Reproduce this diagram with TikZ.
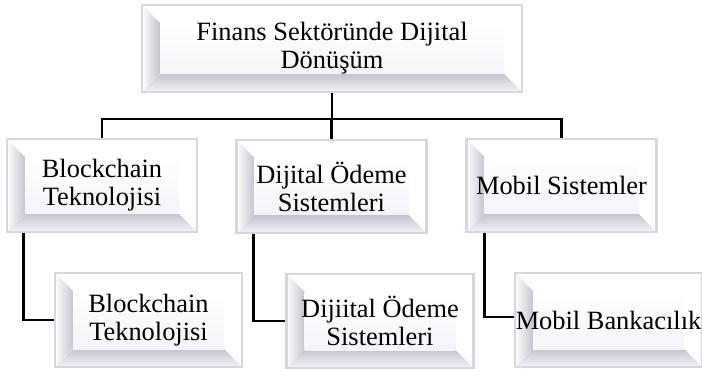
\documentclass[tikz,border=0pt]{standalone}
\usepackage{fontspec}
\setmainfont{Liberation Serif}
\usepackage{tikz}
\usetikzlibrary{calc,positioning}

\definecolor{kenar}{RGB}{214,214,220}
\definecolor{golge}{RGB}{196,196,208}
\definecolor{yuz}{RGB}{244,244,249}

\tikzset{
  kutu/.style={draw=kenar, line width=1.2pt, fill=white, inner sep=0pt,
    align=center, font=\fontsize{13.2}{14}\selectfont,
    path picture={
      \coordinate (k-nw) at (path picture bounding box.north west);
      \coordinate (k-ne) at (path picture bounding box.north east);
      \coordinate (k-sw) at (path picture bounding box.south west);
      \coordinate (k-se) at (path picture bounding box.south east);
      % sol kenar
      \fill[left color=white, right color=golge]
        (k-nw) -- ($(k-nw)+(9pt,-9pt)$) -- ($(k-sw)+(9pt,9pt)$) -- (k-sw) -- cycle;
      % alt kenar
      \fill[top color=golge, bottom color=yuz]
        (k-sw) -- ($(k-sw)+(9pt,9pt)$) -- ($(k-se)+(-9pt,9pt)$) -- (k-se) -- cycle;
      % yuz
      \fill[top color=white, bottom color=yuz]
        ($(k-nw)+(9pt,-9pt)$) rectangle ($(k-se)+(-9pt,9pt)$);
    }},
  ust/.style={kutu, minimum width=190pt, minimum height=43.5pt},
  orta/.style={kutu, minimum width=95pt, minimum height=46.5pt},
  alt/.style={kutu, minimum width=93.5pt, minimum height=47pt},
  hat/.style={line width=1.4pt, black}
}

\begin{document}
\begin{tikzpicture}[x=0.5pt,y=-0.5pt]
  \useasboundingbox (0,0) rectangle (702,369);

  % Ana kutu
  \node[ust] (ana) at (332,48.5) {Finans Sektöründe Dijital\\Dönüşüm};

  % Ikinci seviye
  \node[orta] (bc) at (102,185.5) {Blockchain\\Teknolojisi};
  \node[orta] (ds) at (331.5,186.5) {Dijital Ödeme\\Sistemleri};
  \node[orta] (ms) at (561.5,185.5) {Mobil Sistemler};

  % Ucuncu seviye
  \node[alt] (bc2) at (148.5,320) {Blockchain\\Teknolojisi};
  \node[alt] (ds2) at (380,321) {Dijiital Ödeme\\Sistemleri};
  \node[alt] (ms2) at (608.5,320) {Mobil Bankacılık};

  % Baglantilar
  \coordinate (bar) at (332,119);
  \draw[hat] (ana.south) -- (bar);
  \draw[hat] (bc.north) |- (bar) -| (ms.north);
  \draw[hat] (ds.north) -- (ds.north |- bar);

  \draw[hat] ([xshift=9pt]bc.south west) |- (bc2.west);
  \draw[hat] ([xshift=9pt]ds.south west) |- (ds2.west);
  \draw[hat] ([xshift=9.5pt]ms.south west) |- ([yshift=1.5pt]ms2.west);
\end{tikzpicture}
\end{document}
